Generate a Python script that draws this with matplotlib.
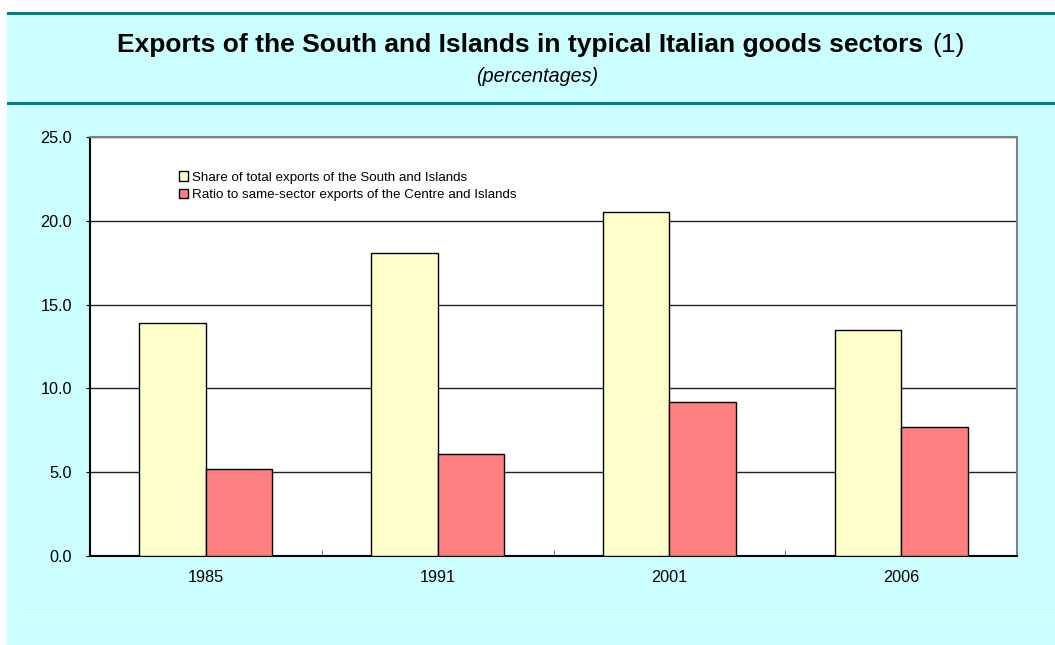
import numpy as np
import matplotlib.pyplot as plt
from matplotlib.patches import Rectangle
from matplotlib.lines import Line2D

plt.rcParams['font.family'] = ['Liberation Sans', 'DejaVu Sans']

# dati
anni = ['1985', '1991', '2001', '2006']
quota_sud = [13.9, 18.1, 20.5, 13.5]
rapporto_centro = [5.2, 6.1, 9.2, 7.7]
etichette = ['Share of total exports of the South and Islands',
             'Ratio to same-sector exports of the Centre and Islands']
yticks = [0, 5, 10, 15, 20, 25]

W, H = 1055, 645
fig = plt.figure(figsize=(W / 100, H / 100), dpi=100)
fig.patch.set_facecolor('white')

# sfondo azzurro e righe verde acqua (sotto gli assi)
fig.patches.append(Rectangle((7 / W, 0), 1, 1 - 13 / H, transform=fig.transFigure,
                             facecolor='#CCFFFF', edgecolor='none', zorder=-5))
for yy in (12.5, 103):
    fig.add_artist(Line2D([8 / W, 1], [1 - yy / H, 1 - yy / H], transform=fig.transFigure,
                          color='#008080', lw=2.2, zorder=-4))
fig.add_artist(Line2D([23 / W, 1], [1 - 614 / H, 1 - 614 / H], transform=fig.transFigure,
                      color='#E6FFFF', lw=0.8, zorder=-4))

# pezzo di scritta tagliata in alto
fig.text(987 / W, 1 + 8 / H, 'g', color='#008080', fontsize=15, fontweight='bold',
         ha='right', va='baseline')

# titolo
fig.text(923 / W, 1 - 45 / H, 'Exports of the South and Islands in typical Italian goods sectors',
         fontsize=19, fontweight='bold', ha='right', va='center')
fig.text(932 / W, 1 - 45 / H, '(1)', fontsize=19, ha='left', va='center')
fig.text(537 / W, 1 - 77 / H, '(percentages)', fontsize=14.2, style='italic',
         ha='center', va='center')

ax = fig.add_axes([90 / W, 1 - 556 / H, 927 / W, 419 / H])
ax.set_facecolor('white')

x = np.arange(len(anni))
w = 0.287
b1 = ax.bar(x - w / 2, quota_sud, w, color='#FFFFCC', edgecolor='black', lw=1, zorder=3,
            label=etichette[0])
b2 = ax.bar(x + w / 2, rapporto_centro, w, color='#FF8080', edgecolor='black', lw=1, zorder=3,
            label=etichette[1])

ax.set_xlim(-0.5, len(anni) - 0.5)
ax.set_ylim(0, 25)
ax.set_yticks(yticks)
ax.set_yticklabels(['%.1f' % v for v in yticks], fontsize=11.7)
ax.yaxis.grid(True, color='#222222', lw=1)
ax.set_axisbelow(True)
ax.tick_params(axis='y', length=3, color='black', pad=10)

ax.set_xticks(x)
ax.set_xticklabels(anni, fontsize=11.7)
ax.tick_params(axis='x', length=0, pad=10)
ax.set_xticks(x[:-1] + 0.5, minor=True)
ax.tick_params(axis='x', which='minor', direction='in', length=4, color='#555555')

for s in ('left', 'bottom'):
    ax.spines[s].set_color('black')
    ax.spines[s].set_linewidth(1.5)
for s in ('top', 'right'):
    ax.spines[s].set_color('#808080')
    ax.spines[s].set_linewidth(1.5)

ax.legend(loc='upper left', bbox_to_anchor=(0.0955, 0.918), frameon=False, fontsize=9.6,
          handlelength=0.7, handleheight=0.7, handletextpad=0.3, labelspacing=0.38,
          borderpad=0, borderaxespad=0)

fig.savefig('out.png', dpi=100)
